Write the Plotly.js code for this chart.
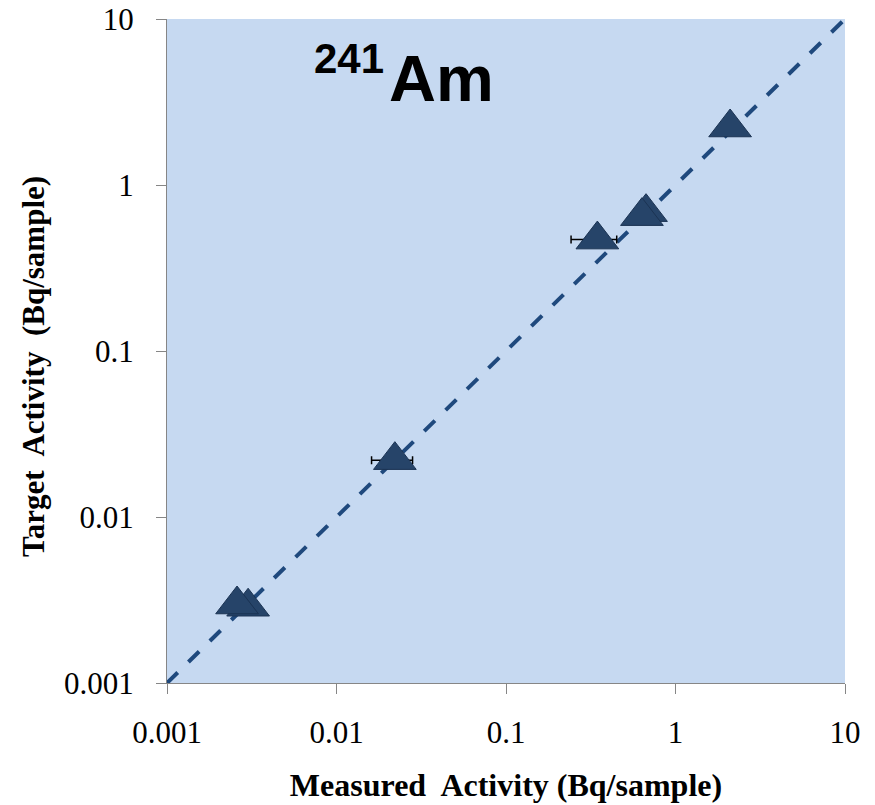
<!DOCTYPE html>
<html>
<head>
<meta charset="utf-8">
<script src="https://cdn.plot.ly/plotly-3.0.1.min.js"></script>
<style>html,body{margin:0;padding:0;background:#fff;}#chart{width:875px;height:805px;}</style>
</head>
<body>
<div id="chart"></div>
<script>
// Measured vs target activity (Bq/sample), 241Am
var measured = [0.00301, 0.00259, 0.0221, 0.346, 0.670, 0.634, 2.10];
var target   = [0.00288, 0.00297, 0.0220, 0.469, 0.686, 0.649, 2.22];
var measuredErr = [0.0004, 0, 0.006, 0.104, 0, 0, 0];
var lineX = [0.001, 10];
var lineY = [0.001, 10];
var tickVals = [0.001, 0.01, 0.1, 1, 10];
var tickText = ['0.001', '0.01', '0.1', '1', '10'];

var serif = 'Liberation Serif, Times New Roman, serif';

var traces = [
  {
    x: lineX, y: lineY, type: 'scatter', mode: 'lines',
    line: {color: '#1F497D', width: 4, dash: '15px,15px'},
    hoverinfo: 'skip', showlegend: false
  },
  {
    x: measured, y: target, type: 'scatter', mode: 'markers',
    marker: {symbol: 'triangle-up', size: 37, color: '#264469', line: {color: '#1B3353', width: 1}},
    error_x: {type: 'data', array: measuredErr, symmetric: true, color: '#000000', thickness: 1.5, width: 4},
    showlegend: false
  }
];

var axisCommon = {
  type: 'log',
  tickvals: tickVals,
  ticktext: tickText,
  showgrid: false,
  zeroline: false,
  showline: true,
  linecolor: '#868686',
  linewidth: 1,
  ticks: 'outside',
  ticklen: 10,
  tickcolor: '#868686',
  tickwidth: 1,
  tickfont: {family: serif, size: 31, color: '#000'},
  mirror: false,
  automargin: false
};

var layout = {
  width: 875, height: 805,
  margin: {l: 167, r: 30, t: 19, b: 122, pad: 0},
  paper_bgcolor: '#ffffff',
  plot_bgcolor: '#C6D9F1',
  showlegend: false,
  xaxis: Object.assign({}, axisCommon, {
    range: [-3, 1],
    ticklabelstandoff: 12,
    title: {text: 'Measured&nbsp; Activity (Bq/sample)', font: {family: serif, size: 32, color: '#000', weight: 'bold'}, standoff: 24}
  }),
  yaxis: Object.assign({}, axisCommon, {
    range: [-3, 1],
    ticklabelstandoff: 16,
    title: {text: 'Target&nbsp; Activity&nbsp; (Bq/sample)&nbsp;&nbsp;&nbsp;&nbsp;', font: {family: serif, size: 31, color: '#000', weight: 'bold'}, standoff: 10}
  }),
  annotations: [
    {xref: 'paper', yref: 'paper', x: 0.325, y: 0.911, xanchor: 'left', yanchor: 'middle', showarrow: false,
     text: '<b>Am</b>', font: {family: 'Liberation Sans, Arial, sans-serif', size: 65, color: '#000'}},
    {xref: 'paper', yref: 'paper', x: 0.214, y: 0.941, xanchor: 'left', yanchor: 'middle', showarrow: false,
     text: '<b>241</b>', font: {family: 'Liberation Sans, Arial, sans-serif', size: 42, color: '#000'}}
  ]
};

Plotly.newPlot('chart', traces, layout, {displayModeBar: false, staticPlot: true});
</script>
</body>
</html>
